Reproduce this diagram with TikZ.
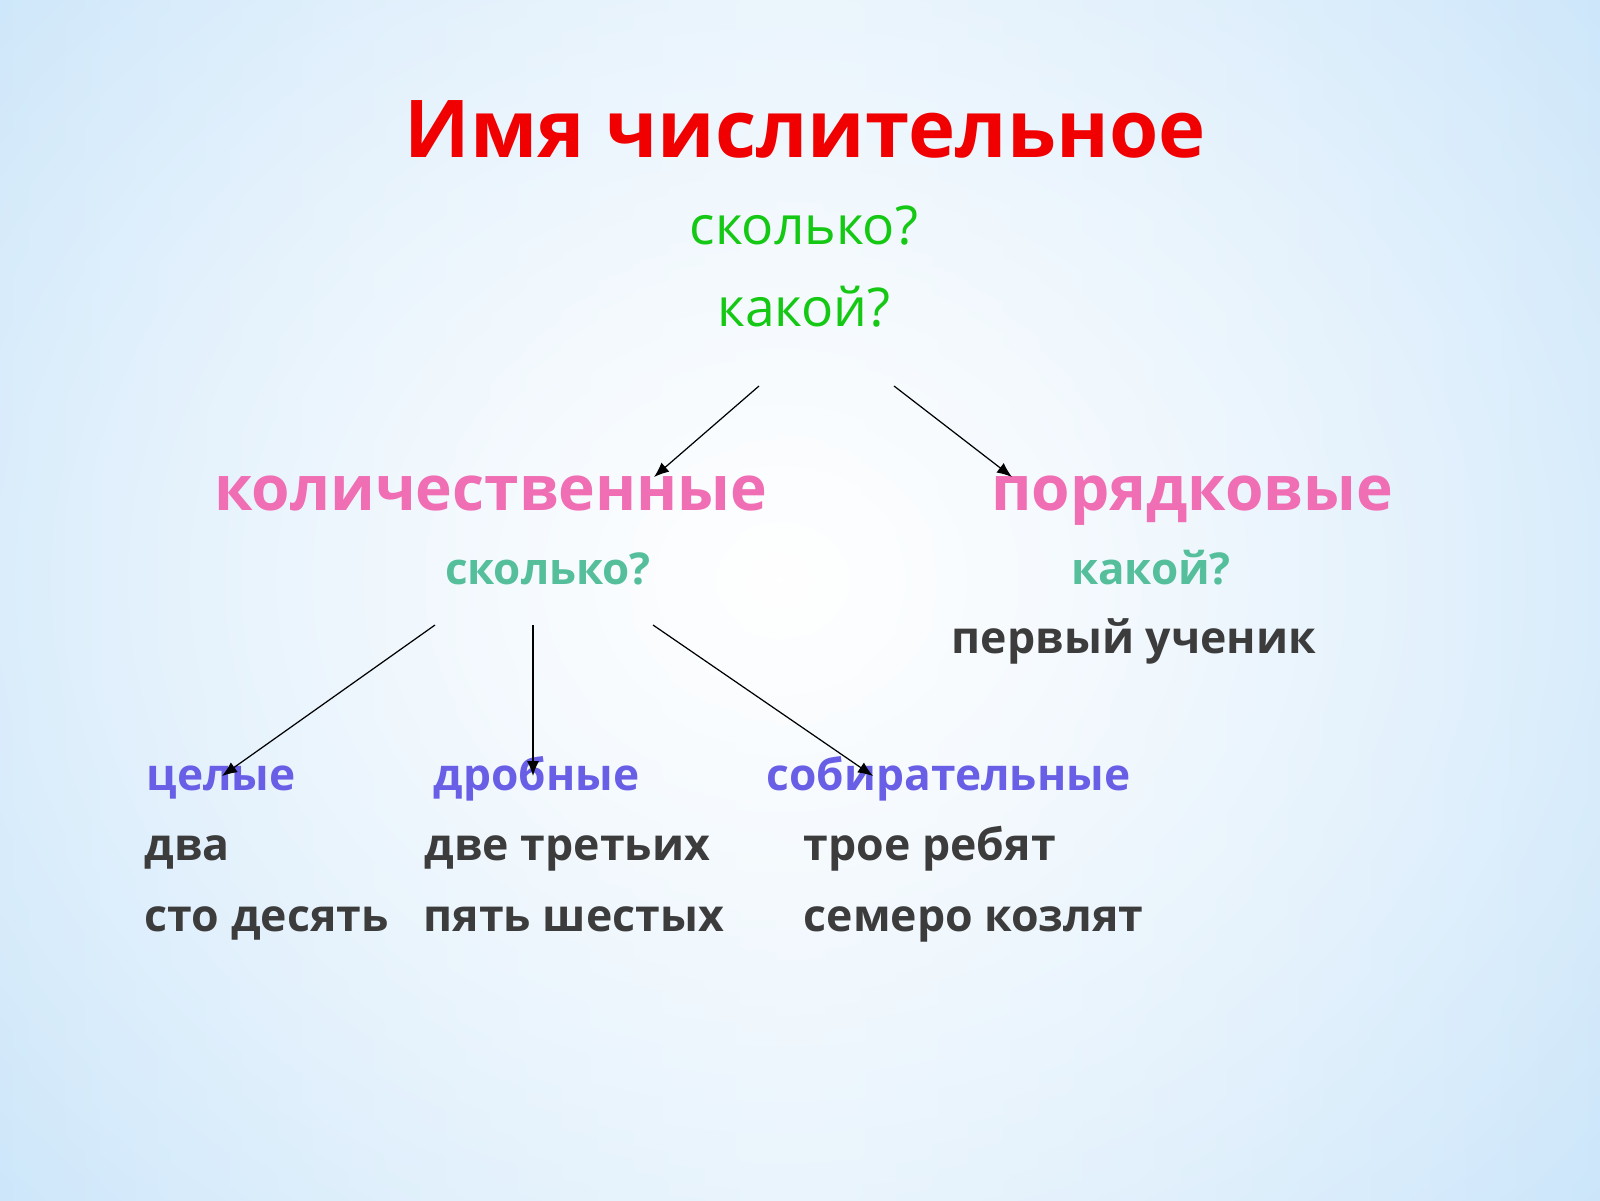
\documentclass[tikz,border=0pt]{standalone}
\usepackage{fontspec}
\setmainfont{Open Sans}
\usepackage{tikz}
\usetikzlibrary{arrows.meta,fadings}

\definecolor{bgedge}{RGB}{140,198,244}
\definecolor{bgmid}{RGB}{192,224,249}
\definecolor{titlered}{RGB}{240,0,0}
\definecolor{askgreen}{RGB}{20,200,20}
\definecolor{kindpink}{RGB}{240,110,180}
\definecolor{askteal}{RGB}{85,190,155}
\definecolor{subviolet}{RGB}{105,95,230}
\definecolor{exgray}{RGB}{60,60,60}

\pgfdeclarehorizontalshading{slide}{100bp}{color(0bp)=(bgedge); color(22bp)=(bgmid); color(50bp)=(white!40!bgmid); color(78bp)=(bgmid); color(100bp)=(bgedge)}
\tikzfading[name=softspot, inner color=transparent!0, outer color=transparent!100]

\tikzset{
  title/.style={anchor=base,text=titlered,font=\fontsize{22.7}{26}\bfseries\selectfont},
  askq/.style={anchor=base,text=askgreen,font=\fontsize{15.2}{18}\selectfont},
  kind/.style={anchor=base,text=kindpink,font=\fontsize{17.7}{21}\bfseries\selectfont},
  ask/.style={anchor=base,text=askteal,font=\fontsize{12.5}{15}\bfseries\selectfont},
  sub/.style={anchor=base west,inner sep=0pt,text=subviolet,font=\fontsize{12.6}{15}\bfseries\selectfont},
  ex/.style={anchor=base west,inner sep=0pt,text=exgray,font=\fontsize{12.7}{15}\bfseries\selectfont},
  arr/.style={-{Latex[length=1.5mm,width=1.2mm]},black,line width=0.35pt}
}

\begin{document}
\begin{tikzpicture}
\useasboundingbox (0,0) rectangle (16,12);
\begin{scope}
  \clip (0,0) rectangle (16,12);
  \shade[shading=slide] (0,0) rectangle (16,12);
  \fill[white,path fading=softspot] (-5.2,-4.8) rectangle (20.8,17.2);
\end{scope}

% head
\node[title] (num) at (8.05,10.42) {Имя числительное};
\node[askq] (qhow) at (8.04,9.55) {сколько?};
\node[askq] (qwhich) at (8.04,8.73) {какой?};

% two kinds
\node[kind] (card) at (4.91,6.90) {количественные};
\node[kind] (ord) at (11.92,6.90) {порядковые};
\node[ask] (cardq) at (5.48,6.16) {сколько?};
\node[ask] (ordq) at (11.51,6.16) {какой?};
\node[ex,anchor=base] (ordex) at (11.34,5.47) {первый ученик};

% cardinal groups
\node[sub] (whole) at (1.46,4.10) {целые};
\node[sub] (frac) at (4.33,4.10) {дробные};
\node[sub] (coll) at (7.66,4.10) {собирательные};
\node[ex] (whole1) at (1.44,3.40) {два};
\node[ex] (whole2) at (1.44,2.69) {сто десять};
\node[ex] (frac1) at (4.24,3.40) {две третьих};
\node[ex] (frac2) at (4.23,2.69) {пять шестых};
\node[ex] (coll1) at (8.03,3.40) {трое ребят};
\node[ex] (coll2) at (8.03,2.69) {семеро козлят};

% arrow ends
\coordinate (top-l) at (7.59,8.14);
\coordinate (top-r) at (8.94,8.14);
\coordinate (card-in) at (6.54,7.23);
\coordinate (ord-in) at (10.12,7.23);
\coordinate (mid-l) at (4.35,5.75);
\coordinate (mid-c) at (5.33,5.75);
\coordinate (mid-r) at (6.53,5.75);
\coordinate (whole-in) at (2.22,4.24);
\coordinate (frac-in) at (5.33,4.24);
\coordinate (coll-in) at (8.73,4.24);

\draw[arr] (top-l) -- (card-in);
\draw[arr] (top-r) -- (ord-in);
\draw[arr] (mid-l) -- (whole-in);
\draw[arr] (mid-c) -- (frac-in);
\draw[arr] (mid-r) -- (coll-in);
\end{tikzpicture}
\end{document}
